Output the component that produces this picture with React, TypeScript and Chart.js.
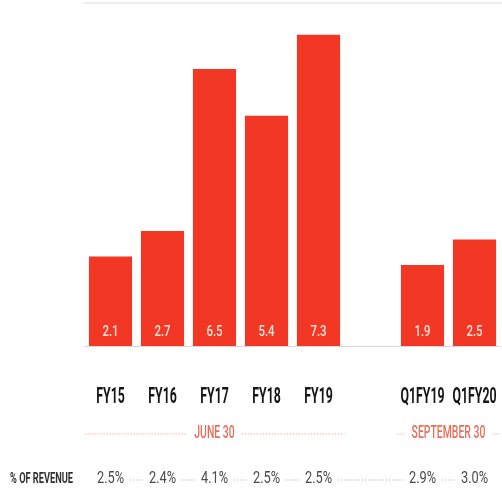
import React, { useEffect, useRef } from "react";
import { Chart, registerables } from "chart.js";

Chart.register(...registerables);

const categories = ["FY15", "FY16", "FY17", "FY18", "FY19", "", "Q1FY19", "Q1FY20"];
const values = [2.1, 2.7, 6.5, 5.4, 7.3, null, 1.9, 2.5];
const pctOfRevenue = ["2.5%", "2.4%", "4.1%", "2.5%", "2.5%", "", "2.9%", "3.0%"];
const groupLabels = ["JUNE 30", "SEPTEMBER 30"];
const groupStart = [0, 6];
const groupEnd = [4, 7];
const rowLabel = "% OF REVENUE";

const BAR = "#f23824";
const FONT = "Roboto, 'Liberation Sans', sans-serif";

function drawText(ctx: CanvasRenderingContext2D, text: string, x: number, y: number, font: string, color: string, sx: number, align: CanvasTextAlign = "center") {
  ctx.save();
  ctx.font = font;
  const w = ctx.measureText(text).width * sx;
  ctx.translate(x, y);
  ctx.scale(sx, 1);
  ctx.fillStyle = color;
  ctx.textAlign = align;
  ctx.textBaseline = "middle";
  ctx.fillText(text, 0, 0);
  ctx.restore();
  return w;
}

function dotted(ctx: CanvasRenderingContext2D, x0: number, x1: number, y: number, color: string) {
  if (x1 <= x0) return;
  ctx.save();
  ctx.strokeStyle = color;
  ctx.lineWidth = 1.2;
  ctx.setLineDash([1.2, 1.8]);
  ctx.beginPath();
  ctx.moveTo(x0, y);
  ctx.lineTo(x1, y);
  ctx.stroke();
  ctx.restore();
}

const decorPlugin = {
  id: "decor",
  beforeDatasetsDraw(chart: any) {
    const { ctx, chartArea, scales } = chart;
    const y0 = scales.y.getPixelForValue(0);
    ctx.save();
    ctx.strokeStyle = "#efefef";
    ctx.lineWidth = 2;
    ctx.beginPath();
    ctx.moveTo(chartArea.left - 1, chartArea.top - 2);
    ctx.lineTo(chart.width, chartArea.top - 2);
    ctx.stroke();
    ctx.strokeStyle = "#d6d6d6";
    ctx.lineWidth = 1;
    ctx.beginPath();
    ctx.moveTo(chartArea.left, y0 + 0.5);
    ctx.lineTo(chartArea.right, y0 + 0.5);
    ctx.stroke();
    ctx.restore();
  },
  afterDatasetsDraw(chart: any) {
    const { ctx, scales } = chart;
    const xs = scales.x;
    const y0 = scales.y.getPixelForValue(0);
    const meta = chart.getDatasetMeta(0);
    const slot = xs.getPixelForValue(1) - xs.getPixelForValue(0);

    // values inside bars
    meta.data.forEach((bar: any, i: number) => {
      const v = values[i];
      if (v == null) return;
      drawText(ctx, v.toFixed(1), bar.x, y0 - 14, `500 15px ${FONT}`, "#fde4dc", 0.76);
    });

    // category labels
    categories.forEach((c, i) => {
      if (!c) return;
      drawText(ctx, c, xs.getPixelForValue(i), y0 + 51, `700 22px ${FONT}`, "#161616", 0.56);
    });

    // group labels with dotted lines
    const gy = y0 + 87;
    groupLabels.forEach((g, k) => {
      const a = xs.getPixelForValue(groupStart[k]) - slot / 2;
      const b = xs.getPixelForValue(groupEnd[k]) + slot / 2;
      const cx = (a + b) / 2;
      const w = drawText(ctx, g, cx, gy, `500 18px ${FONT}`, "#ea6e5c", 0.58);
      dotted(ctx, a + 1, cx - w / 2 - 7, gy + 1, "#f2a193");
      dotted(ctx, cx + w / 2 + 7, b, gy + 1, "#f2a193");
    });

    // % of revenue row
    const py = y0 + 133;
    drawText(ctx, rowLabel, 10, py, `700 14px ${FONT}`, "#2e2e2e", 0.66, "left");
    let prevRight: number | null = null;
    pctOfRevenue.forEach((p, i) => {
      if (!p) return;
      const cx = xs.getPixelForValue(i);
      const w = drawText(ctx, p, cx, py, `400 16px ${FONT}`, "#4a4a4a", 0.8);
      if (prevRight != null) dotted(ctx, prevRight + 6, cx - w / 2 - 6, py + 1, "#b5b5b5");
      prevRight = cx + w / 2;
    });
  },
};

export default function App() {
  const ref = useRef<HTMLCanvasElement>(null);
  useEffect(() => {
    document.body.style.margin = "0";
    const chart = new Chart(ref.current as HTMLCanvasElement, {
      type: "bar",
      data: {
        labels: categories,
        datasets: [
          {
            data: values as any,
            backgroundColor: BAR,
            borderWidth: 0,
            barPercentage: 0.83,
            categoryPercentage: 1,
          },
        ],
      },
      options: {
        animation: false,
        responsive: false,
        maintainAspectRatio: false,
        layout: { padding: { left: 84.5, right: 1.5, top: 5, bottom: 149 } },
        plugins: { legend: { display: false }, tooltip: { enabled: false } },
        scales: {
          x: { display: false },
          y: { display: false, min: 0, max: 8 },
        },
      },
      plugins: [decorPlugin],
    });
    return () => chart.destroy();
  }, []);
  return (
    <div style={{ position: "absolute", left: 0, top: 0, width: 502, height: 495 }}>
      <canvas ref={ref} width={502} height={495} style={{ width: 502, height: 495, display: "block" }} />
    </div>
  );
}
